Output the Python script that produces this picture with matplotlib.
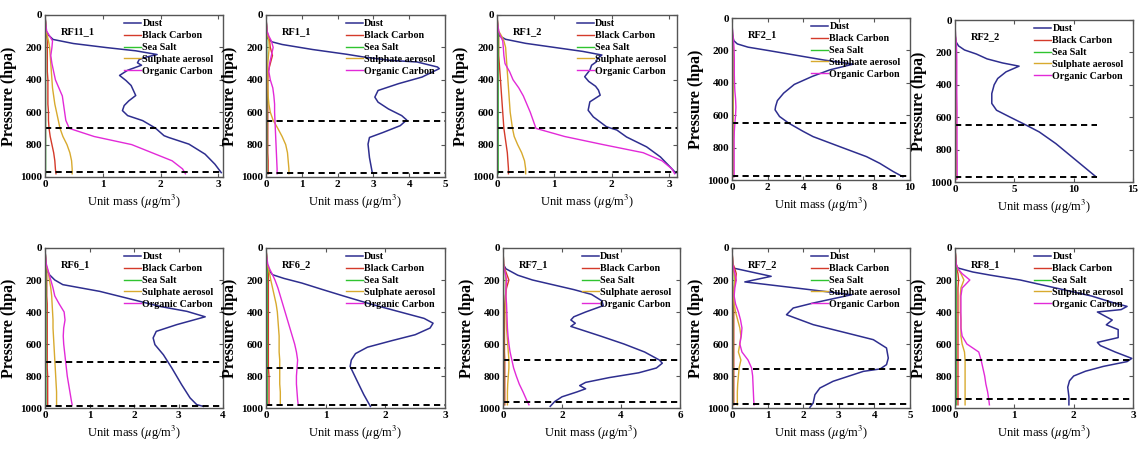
import matplotlib.pyplot as plt
import numpy as np

plt.rcParams['font.family'] = 'Liberation Serif'
plt.rcParams['mathtext.fontset'] = 'stix'

# flight names
flights = ['RF11_1', 'RF1_1', 'RF1_2', 'RF2_1', 'RF2_2',
           'RF6_1', 'RF6_2', 'RF7_1', 'RF7_2', 'RF8_1']
species = ['Dust', 'Black Carbon', 'Sea Salt', 'Sulphate aerosol', 'Organic Carbon']

# pressure levels (hPa) for the minor species
p_lev = [0, 50, 100, 130, 160, 200, 250, 300, 350, 400, 450, 500, 550, 600,
         650, 700, 750, 800, 850, 900, 950, 980]

# ---- RF11_1
dust_p_rf11_1 = [0, 100, 124, 151, 176, 201, 221, 244, 260, 275, 295, 310, 341, 373, 404, 435,
                 497, 530, 559, 590, 621, 652, 698, 745, 756, 797, 859, 921, 973]
dust_rf11_1 = [0, 0.02, 0.06, 0.14, 0.49, 1.06, 1.57, 1.94, 1.75, 1.63, 1.6, 1.67, 1.43, 1.29, 1.40, 1.49,
               1.57, 1.45, 1.37, 1.34, 1.43, 1.69, 1.91, 2.06, 2.14, 2.49, 2.77, 2.94, 3.05]
bc_rf11_1 = [0, 0.01, 0.02, 0.03, 0.04, 0.04, 0.04, 0.04, 0.04, 0.05, 0.05, 0.05, 0.05, 0.06,
             0.06, 0.07, 0.09, 0.12, 0.15, 0.17, 0.18, 0.19]
ss_rf11_1 = [0, 0.01, 0.01, 0.01, 0.01, 0.01, 0.01, 0.01, 0.01, 0.01, 0.01, 0.01, 0.01, 0.01,
             0.01, 0.01, 0.01, 0.01, 0.01, 0.01, 0.01, 0.01]
su_rf11_1 = [0, 0.01, 0.02, 0.04, 0.06, 0.08, 0.09, 0.1, 0.11, 0.12, 0.13, 0.15, 0.17, 0.2,
             0.23, 0.26, 0.31, 0.38, 0.43, 0.46, 0.47, 0.47]
oc_rf11_1 = [0, 0.01, 0.03, 0.08, 0.13, 0.12, 0.1, 0.12, 0.15, 0.18, 0.24, 0.3, 0.32, 0.34,
             0.36, 0.42, 0.85, 1.5, 1.85, 2.2, 2.38, 2.43]

# ---- RF1_1
dust_p_rf1_1 = [0, 100, 145, 166, 182, 213, 242, 259, 280, 290, 321, 331, 383, 424, 466, 507,
                538, 580, 621, 648, 683, 725, 756, 797, 880, 975]
dust_rf1_1 = [0, 0.02, 0.05, 0.17, 0.45, 1.30, 2.24, 2.72, 3.47, 4.22, 4.79, 4.84, 4.36, 3.70, 3.13, 3.04,
              3.13, 3.42, 3.79, 3.93, 3.75, 3.27, 2.89, 2.85, 2.89, 2.97]
bc_rf1_1 = [0, 0.01, 0.03, 0.06, 0.1, 0.12, 0.18, 0.12, 0.06, 0.05, 0.05, 0.05, 0.05, 0.05,
            0.05, 0.05, 0.05, 0.05, 0.05, 0.06, 0.06, 0.06]
ss_rf1_1 = [0, 0.01, 0.02, 0.02, 0.02, 0.02, 0.02, 0.02, 0.02, 0.02, 0.02, 0.02, 0.02, 0.02,
            0.02, 0.02, 0.02, 0.02, 0.02, 0.02, 0.02, 0.02]
su_rf1_1 = [0, 0.01, 0.02, 0.05, 0.08, 0.09, 0.07, 0.05, 0.05, 0.05, 0.05, 0.06, 0.08, 0.12,
            0.2, 0.33, 0.45, 0.55, 0.6, 0.62, 0.64, 0.64]
oc_rf1_1 = [0, 0.01, 0.03, 0.08, 0.15, 0.2, 0.15, 0.1, 0.08, 0.12, 0.19, 0.22, 0.24, 0.24,
            0.25, 0.26, 0.27, 0.28, 0.29, 0.3, 0.31, 0.31]

# ---- RF1_2
dust_p_rf1_2 = [0, 100, 130, 150, 175, 200, 225, 247, 270, 290, 310, 340, 381, 410, 440, 464,
                495, 536, 588, 629, 690, 710, 753, 814, 876, 938, 975]
dust_rf1_2 = [0, 0.01, 0.05, 0.15, 0.5, 1.0, 1.5, 1.83, 1.75, 1.73, 1.65, 1.62, 1.53, 1.6, 1.72, 1.77,
              1.8, 1.62, 1.59, 1.68, 1.91, 2.09, 2.26, 2.61, 2.85, 3.02, 3.12]
bc_rf1_2 = [0, 0.01, 0.02, 0.03, 0.03, 0.03, 0.03, 0.04, 0.05, 0.06, 0.07, 0.08, 0.09, 0.1,
            0.11, 0.12, 0.14, 0.16, 0.18, 0.19, 0.2, 0.2]
ss_rf1_2 = [0, 0.01, 0.02, 0.02, 0.02, 0.02, 0.02, 0.02, 0.02, 0.02, 0.02, 0.02, 0.02, 0.02,
            0.02, 0.02, 0.02, 0.02, 0.02, 0.02, 0.02, 0.02]
su_rf1_2 = [0, 0.01, 0.03, 0.08, 0.12, 0.15, 0.16, 0.17, 0.18, 0.19, 0.2, 0.21, 0.22, 0.23,
            0.25, 0.27, 0.3, 0.36, 0.43, 0.48, 0.5, 0.5]
oc_rf1_2 = [0, 0.01, 0.03, 0.06, 0.1, 0.11, 0.12, 0.14, 0.22, 0.28, 0.38, 0.46, 0.52, 0.58,
            0.63, 0.68, 1.18, 1.85, 2.55, 2.88, 3.05, 3.1]

# ---- RF2_1
dust_p_rf2_1 = [0, 100, 140, 160, 180, 200, 230, 260, 285, 320, 361, 410, 464, 510, 546, 567,
                608, 650, 700, 732, 794, 856, 897, 948, 980]
dust_rf2_1 = [0, 0.02, 0.1, 0.3, 0.9, 2.0, 3.6, 5.2, 6.8, 5.5, 4.5, 3.5, 2.9, 2.55, 2.45, 2.42,
              2.67, 3.2, 4.0, 4.55, 6.05, 7.56, 8.3, 9.06, 9.6]
bc_rf2_1 = [0, 0.01, 0.02, 0.02, 0.03, 0.03, 0.03, 0.03, 0.03, 0.03, 0.03, 0.03, 0.03, 0.03,
            0.03, 0.03, 0.03, 0.03, 0.03, 0.03, 0.03, 0.03]
ss_rf2_1 = [0, 0.01, 0.03, 0.04, 0.05, 0.05, 0.05, 0.05, 0.05, 0.05, 0.05, 0.05, 0.05, 0.05,
            0.05, 0.05, 0.05, 0.05, 0.05, 0.05, 0.05, 0.05]
su_rf2_1 = [0, 0.01, 0.02, 0.03, 0.04, 0.05, 0.05, 0.05, 0.05, 0.05, 0.05, 0.06, 0.06, 0.06,
            0.06, 0.06, 0.06, 0.06, 0.06, 0.06, 0.06, 0.06]
oc_rf2_1 = [0, 0.01, 0.05, 0.08, 0.1, 0.12, 0.13, 0.13, 0.13, 0.14, 0.16, 0.2, 0.22, 0.2,
            0.16, 0.13, 0.12, 0.12, 0.12, 0.12, 0.12, 0.12]

# ---- RF2_2
dust_p_rf2_2 = [0, 100, 134, 160, 185, 210, 240, 265, 285, 320, 361, 400, 454, 515, 557, 598,
                649, 691, 763, 866, 969]
dust_rf2_2 = [0, 0.02, 0.08, 0.3, 0.8, 1.8, 2.7, 4.0, 5.4, 4.3, 3.6, 3.3, 3.1, 3.1, 3.5, 4.6,
              6.0, 7.1, 8.5, 10.2, 11.9]
bc_rf2_2 = [0, 0.01, 0.02, 0.03, 0.04, 0.05, 0.05, 0.05, 0.05, 0.05, 0.05, 0.05, 0.05, 0.05,
            0.05, 0.05, 0.05, 0.05, 0.05, 0.05, 0.05, 0.05]
ss_rf2_2 = [0, 0.02, 0.04, 0.06, 0.08, 0.08, 0.08, 0.08, 0.08, 0.08, 0.08, 0.08, 0.08, 0.08,
            0.08, 0.08, 0.08, 0.08, 0.08, 0.08, 0.08, 0.08]
su_rf2_2 = [0, 0.01, 0.03, 0.05, 0.08, 0.1, 0.1, 0.1, 0.1, 0.1, 0.1, 0.1, 0.1, 0.1,
            0.1, 0.1, 0.1, 0.1, 0.1, 0.1, 0.1, 0.1]
oc_rf2_2 = [0, 0.02, 0.05, 0.1, 0.12, 0.14, 0.15, 0.15, 0.15, 0.15, 0.15, 0.16, 0.17, 0.17,
            0.17, 0.17, 0.17, 0.17, 0.18, 0.18, 0.18, 0.18]

# ---- RF6_1
dust_p_rf6_1 = [0, 104, 140, 167, 200, 229, 271, 323, 365, 396, 430, 479, 521, 562, 604, 667,
                750, 854, 937, 979, 990]
dust_rf6_1 = [0, 0.02, 0.05, 0.1, 0.22, 0.4, 1.23, 1.98, 2.58, 3.19, 3.6, 2.96, 2.5, 2.43, 2.47, 2.66,
              2.85, 3.07, 3.26, 3.41, 3.56]
bc_rf6_1 = [0, 0.01, 0.02, 0.03, 0.04, 0.04, 0.04, 0.04, 0.05, 0.05, 0.05, 0.05, 0.05, 0.05,
            0.05, 0.05, 0.05, 0.06, 0.06, 0.06, 0.06, 0.06]
ss_rf6_1 = [0, 0.01, 0.02, 0.02, 0.02, 0.02, 0.02, 0.02, 0.02, 0.02, 0.02, 0.02, 0.02, 0.02,
            0.02, 0.02, 0.02, 0.02, 0.02, 0.02, 0.02, 0.02]
su_rf6_1 = [0, 0.01, 0.02, 0.05, 0.08, 0.1, 0.13, 0.15, 0.16, 0.17, 0.18, 0.18, 0.19, 0.2,
            0.21, 0.22, 0.23, 0.24, 0.25, 0.26, 0.26, 0.26]
oc_rf6_1 = [0, 0.01, 0.03, 0.06, 0.09, 0.13, 0.18, 0.22, 0.32, 0.43, 0.45, 0.42, 0.41, 0.42,
            0.44, 0.46, 0.48, 0.5, 0.53, 0.56, 0.59, 0.61]

# ---- RF6_2
dust_p_rf6_2 = [0, 104, 140, 167, 190, 219, 260, 300, 350, 400, 440, 470, 500, 542, 580, 620,
                660, 700, 740, 833, 917, 990]
dust_rf6_2 = [0, 0.01, 0.05, 0.11, 0.3, 0.6, 0.95, 1.3, 1.75, 2.25, 2.65, 2.8, 2.75, 2.5, 2.1, 1.7,
              1.5, 1.43, 1.41, 1.53, 1.64, 1.75]
bc_rf6_2 = [0, 0.01, 0.02, 0.03, 0.04, 0.04, 0.04, 0.04, 0.04, 0.04, 0.04, 0.04, 0.04, 0.04,
            0.04, 0.04, 0.04, 0.05, 0.05, 0.05, 0.05, 0.05]
ss_rf6_2 = [0, 0.01, 0.02, 0.02, 0.02, 0.02, 0.02, 0.02, 0.02, 0.02, 0.02, 0.02, 0.02, 0.02,
            0.02, 0.02, 0.02, 0.02, 0.02, 0.02, 0.02, 0.02]
su_rf6_2 = [0, 0.01, 0.02, 0.04, 0.06, 0.08, 0.11, 0.14, 0.17, 0.19, 0.2, 0.21, 0.22, 0.22,
            0.22, 0.23, 0.23, 0.23, 0.23, 0.24, 0.24, 0.24]
oc_rf6_2 = [0, 0.01, 0.03, 0.06, 0.1, 0.15, 0.2, 0.24, 0.28, 0.32, 0.36, 0.4, 0.44, 0.48,
            0.51, 0.53, 0.52, 0.51, 0.51, 0.52, 0.53, 0.54]

# ---- RF7_1
dust_p_rf7_1 = [0, 100, 130, 170, 200, 230, 260, 290, 330, 360, 400, 430, 450, 470, 490, 550,
                600, 650, 700, 720, 750, 780, 810, 840, 860, 880, 900, 930, 960, 990]
dust_rf7_1 = [0, 0, 0.1, 0.5, 1.0, 1.7, 2.4, 3.0, 3.35, 3.4, 2.8, 2.4, 2.3, 2.45, 2.3, 3.3,
              4.1, 4.8, 5.3, 5.4, 5.2, 4.6, 3.6, 2.8, 2.6, 2.8, 2.5, 2.0, 1.75, 1.6]
bc_rf7_1 = [0, 0.01, 0.02, 0.06, 0.12, 0.2, 0.12, 0.08, 0.06, 0.05, 0.05, 0.05, 0.05, 0.05,
            0.05, 0.06, 0.06, 0.06, 0.06, 0.06, 0.06, 0.06]
ss_rf7_1 = [0, 0.01, 0.02, 0.02, 0.02, 0.02, 0.02, 0.02, 0.02, 0.02, 0.02, 0.02, 0.02, 0.02,
            0.02, 0.02, 0.02, 0.02, 0.02, 0.02, 0.02, 0.02]
su_rf7_1 = [0, 0.01, 0.02, 0.05, 0.08, 0.1, 0.1, 0.1, 0.1, 0.1, 0.11, 0.12, 0.14, 0.16,
            0.18, 0.2, 0.2, 0.18, 0.16, 0.15, 0.15, 0.15]
oc_rf7_1 = [0, 0.01, 0.02, 0.04, 0.08, 0.12, 0.1, 0.1, 0.12, 0.13, 0.14, 0.15, 0.17, 0.2,
            0.24, 0.3, 0.36, 0.45, 0.55, 0.68, 0.8, 0.88]

# ---- RF7_2
dust_p_rf7_2 = [0, 100, 125, 177, 212, 250, 292, 344, 375, 417, 479, 531, 573, 625, 688, 729,
                756, 771, 833, 875, 917, 969, 996]
dust_rf7_2 = [0, 0, 0.03, 1.1, 0.36, 1.8, 3.36, 2.28, 1.72, 1.53, 2.28, 3.22, 3.97, 4.34, 4.39, 4.34,
              4.16, 3.69, 2.84, 2.47, 2.33, 2.28, 2.19]
bc_rf7_2 = [0, 0.01, 0.03, 0.08, 0.12, 0.1, 0.06, 0.05, 0.05, 0.05, 0.05, 0.05, 0.05, 0.05,
            0.05, 0.05, 0.05, 0.05, 0.05, 0.05, 0.05, 0.05]
ss_rf7_2 = [0, 0.01, 0.02, 0.02, 0.02, 0.02, 0.02, 0.02, 0.02, 0.02, 0.02, 0.02, 0.02, 0.02,
            0.02, 0.02, 0.02, 0.02, 0.02, 0.02, 0.02, 0.02]
su_rf7_2 = [0, 0.01, 0.02, 0.04, 0.06, 0.08, 0.06, 0.04, 0.06, 0.1, 0.16, 0.22, 0.25, 0.22,
            0.18, 0.25, 0.2, 0.18, 0.16, 0.15, 0.15, 0.15]
oc_rf7_2 = [0, 0.01, 0.02, 0.05, 0.08, 0.12, 0.08, 0.06, 0.1, 0.18, 0.24, 0.28, 0.26, 0.22,
            0.28, 0.45, 0.55, 0.58, 0.59, 0.6, 0.61, 0.62]

# ---- RF8_1
dust_p_rf8_1 = [0, 100, 125, 150, 170, 200, 250, 300, 340, 365, 385, 400, 420, 450, 480, 510,
                560, 590, 610, 650, 690, 710, 740, 770, 800, 830, 870, 930, 980]
dust_rf8_1 = [0, 0, 0.05, 0.3, 0.6, 1.1, 1.7, 2.3, 2.65, 2.9, 2.8, 2.4, 2.5, 2.65, 2.55, 2.75,
              2.75, 2.4, 2.45, 2.7, 2.98, 2.9, 2.5, 2.2, 2.0, 1.93, 1.9, 1.92, 1.92]
bc_rf8_1 = [0, 0.01, 0.02, 0.03, 0.05, 0.06, 0.05, 0.05, 0.05, 0.05, 0.05, 0.05, 0.05, 0.05,
            0.05, 0.05, 0.05, 0.05, 0.05, 0.05, 0.05, 0.05]
ss_rf8_1 = [0, 0.01, 0.02, 0.02, 0.02, 0.02, 0.02, 0.02, 0.02, 0.02, 0.02, 0.02, 0.02, 0.02,
            0.02, 0.02, 0.02, 0.02, 0.02, 0.02, 0.02, 0.02]
su_rf8_1 = [0, 0.01, 0.02, 0.05, 0.1, 0.15, 0.1, 0.09, 0.09, 0.09, 0.1, 0.1, 0.1, 0.12,
            0.16, 0.17, 0.17, 0.17, 0.17, 0.17, 0.17, 0.17]
oc_rf8_1 = [0, 0.01, 0.02, 0.05, 0.12, 0.25, 0.12, 0.1, 0.1, 0.1, 0.1, 0.1, 0.12, 0.2,
            0.4, 0.44, 0.47, 0.5, 0.52, 0.55, 0.57, 0.58]

# dashed reference levels (hPa) for each flight
levels = [(700, 972), (655, 975), (700, 972), (650, 975), (650, 970),
          (710, 985), (750, 980), (700, 960), (755, 975), (700, 945)]
x_max = [3.08, 5, 3.14, 10, 15, 4, 3, 6, 5, 3]
x_step = [1, 1, 1, 2, 5, 1, 1, 2, 1, 1]

dust_p = [dust_p_rf11_1, dust_p_rf1_1, dust_p_rf1_2, dust_p_rf2_1, dust_p_rf2_2,
          dust_p_rf6_1, dust_p_rf6_2, dust_p_rf7_1, dust_p_rf7_2, dust_p_rf8_1]
dust = [dust_rf11_1, dust_rf1_1, dust_rf1_2, dust_rf2_1, dust_rf2_2,
        dust_rf6_1, dust_rf6_2, dust_rf7_1, dust_rf7_2, dust_rf8_1]
bc = [bc_rf11_1, bc_rf1_1, bc_rf1_2, bc_rf2_1, bc_rf2_2,
      bc_rf6_1, bc_rf6_2, bc_rf7_1, bc_rf7_2, bc_rf8_1]
ss = [ss_rf11_1, ss_rf1_1, ss_rf1_2, ss_rf2_1, ss_rf2_2,
      ss_rf6_1, ss_rf6_2, ss_rf7_1, ss_rf7_2, ss_rf8_1]
su = [su_rf11_1, su_rf1_1, su_rf1_2, su_rf2_1, su_rf2_2,
      su_rf6_1, su_rf6_2, su_rf7_1, su_rf7_2, su_rf8_1]
oc = [oc_rf11_1, oc_rf1_1, oc_rf1_2, oc_rf2_1, oc_rf2_2,
      oc_rf6_1, oc_rf6_2, oc_rf7_1, oc_rf7_2, oc_rf8_1]

colors = ['#2e2e8f', '#d43a2a', '#2fc42f', '#d8aa2e', '#e22ad8']

# axes placement in pixels (left, top, width, height)
W, H = 1139, 450
ax_px = [(45, 15, 178, 162), (266, 15, 179, 162), (497, 15, 180, 162),
         (732, 18, 178, 162), (955, 20, 178, 162),
         (45, 248, 178, 160), (266, 248, 179, 160), (503, 248, 177, 160),
         (732, 248, 178, 160), (955, 248, 178, 160)]
dash_end = [None, None, None, None, 12, None, None, None, None, None]

fig = plt.figure(figsize=(W / 100, H / 100), dpi=100)

for i, name in enumerate(flights):
    l, t, w, h = ax_px[i]
    ax = fig.add_axes([l / W, 1 - (t + h) / H, w / W, h / H])

    ax.plot(dust[i], dust_p[i], color=colors[0], lw=1.1, label=species[0])
    ax.plot(bc[i], p_lev, color=colors[1], lw=1.0, label=species[1])
    ax.plot(ss[i], p_lev, color=colors[2], lw=1.0, label=species[2])
    ax.plot(su[i], p_lev, color=colors[3], lw=1.0, label=species[3])
    ax.plot(oc[i], p_lev, color=colors[4], lw=1.0, label=species[4])

    xe = dash_end[i] if dash_end[i] is not None else x_max[i]
    for lev in levels[i]:
        ax.plot([0, xe], [lev, lev], color='black', lw=1.4, ls=(0, (3.2, 2.2)))

    ax.set_xlim(0, x_max[i])
    ax.set_ylim(1000, 0)
    ax.set_xticks(np.arange(0, x_max[i] + 0.01, x_step[i]))
    ax.set_yticks(np.arange(0, 1001, 200))
    ax.tick_params(direction='in', top=True, right=True, length=3, width=0.8,
                   labelsize=8, pad=2, color='#555555')
    for lab in ax.get_xticklabels() + ax.get_yticklabels():
        lab.set_fontweight('bold')
    for sp in ax.spines.values():
        sp.set_color('#555555')
        sp.set_linewidth(1.0)

    ax.set_ylabel('Pressure (hpa)', fontsize=11.5, fontweight='bold', labelpad=2)
    ax.set_xlabel(r'Unit mass ($\mu$g/m$^3$)', fontsize=9, labelpad=3)

    ax.text(0.09, 0.895, name, transform=ax.transAxes, fontsize=7.5,
            fontweight='bold', ha='left', va='center')

    leg = ax.legend(loc='upper left', bbox_to_anchor=(0.435, 0.985), frameon=False,
                    prop={'family': 'Liberation Serif', 'weight': 'bold', 'size': 7.2},
                    handlelength=1.7, handletextpad=0.1, labelspacing=0.28,
                    borderpad=0.2, borderaxespad=0)

fig.savefig('out.png', dpi=100)
